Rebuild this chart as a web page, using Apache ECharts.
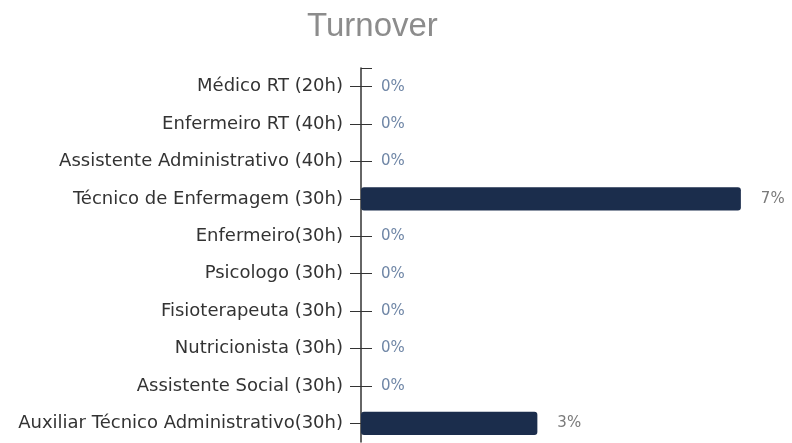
<!DOCTYPE html>
<html>
<head>
<meta charset="utf-8">
<script src="https://cdn.jsdelivr.net/npm/echarts@6/dist/echarts.min.js"></script>
<style>
  html, body { margin: 0; padding: 0; background: #fff; }
  #turnover { width: 792px; height: 443px; }
</style>
</head>
<body>
<div id="turnover"></div>
<script>
// categorias e valores (%)
var cargos = [
    'Médico RT (20h)',
    'Enfermeiro RT (40h)',
    'Assistente Administrativo (40h)',
    'Técnico de Enfermagem (30h)',
    'Enfermeiro(30h)',
    'Psicologo (30h)',
    'Fisioterapeuta (30h)',
    'Nutricionista (30h)',
    'Assistente Social (30h)',
    'Auxiliar Técnico Administrativo(30h)'
];
var turnover = [0, 0, 0, 7.0, 0, 0, 0, 0, 0, 3.25];

var myChart = echarts.init(document.getElementById('turnover'));

var dados = [];
for (var i = 0; i < turnover.length; i++) {
    dados.push({
        value: turnover[i],
        label: { color: turnover[i] === 0 ? '#6f86a6' : '#7a7a7a' }
    });
}

// meias-faixas para o eixo auxiliar (ticks do lado direito)
var meias = [];
for (var j = 0; j < cargos.length * 2; j++) {
    meias.push('m' + j);
}

var gridLeft = 361, gridRight = 24;

var option = {
    animation: false,
    title: {
        text: 'Turnover',
        left: 302,
        top: 5,
        textStyle: {
            fontFamily: 'Liberation Sans',
            fontSize: 33,
            fontWeight: 'normal',
            color: '#8c8c8c'
        }
    },
    grid: {
        left: gridLeft,
        right: gridRight,
        top: 68,
        bottom: 1
    },
    xAxis: {
        type: 'value',
        min: 0,
        max: 7.5,
        show: false
    },
    yAxis: [{
        type: 'category',
        data: cargos,
        inverse: true,
        axisLine: { show: true, lineStyle: { color: '#333', width: 1.5 } },
        axisTick: { show: true, alignWithLabel: true, length: 11, lineStyle: { color: '#333' } },
        axisLabel: {
            margin: 18,
            fontFamily: 'DejaVu Sans',
            fontSize: 18,
            color: '#333'
        }
    }, {
        // eixo da direita puxado para a esquerda: ticks impares = centro das linhas
        type: 'category',
        data: meias,
        position: 'right',
        offset: -(792 - gridLeft - gridRight),
        axisLine: { show: true, lineStyle: { color: '#333', opacity: 0 } },
        axisTick: {
            show: true,
            length: 11,
            interval: function (index) { return index % 2 === 1; },
            lineStyle: { color: '#333' }
        },
        axisLabel: { show: true, color: 'rgba(0,0,0,0)', fontSize: 6 }
    }],
    series: [{
        type: 'bar',
        data: dados,
        barWidth: '62%',
        itemStyle: { color: '#1b2d4c', borderRadius: 3 },
        label: {
            show: true,
            position: 'right',
            distance: 20,
            fontFamily: 'DejaVu Sans',
            fontSize: 15,
            formatter: function (p) { return Math.round(p.value) + '%'; }
        }
    }]
};
myChart.setOption(option);
</script>
</body>
</html>
